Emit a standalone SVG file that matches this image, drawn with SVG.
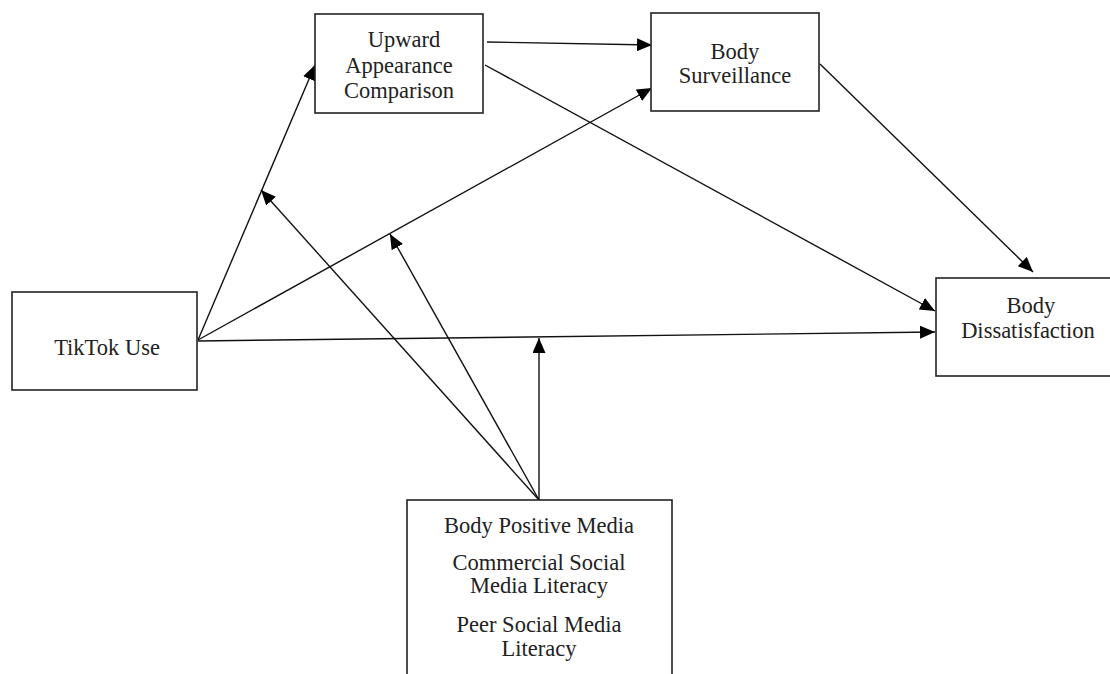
<svg xmlns="http://www.w3.org/2000/svg" width="1110" height="674" viewBox="0 0 1110 674">
<style>
.box{fill:#fff;stroke:#222;stroke-width:1.6}
.t{font-family:"Liberation Serif","Times New Roman",serif;font-size:22.5px;fill:#222;text-anchor:middle}
.c{stroke:#111;stroke-width:1.4;fill:none;marker-end:url(#ah)}
</style>
<defs>
<marker id="ah" viewBox="0 0 15 13" refX="15" refY="6.5" markerWidth="15" markerHeight="13" markerUnits="userSpaceOnUse" orient="auto">
<path d="M0,0 L15,6.5 L0,13 Z" fill="#000"/>
</marker>
</defs>
<rect width="1110" height="674" fill="#fff"/>
<g id="connectors">
<line class="c" x1="198" y1="340" x2="315" y2="65"/>
<line class="c" x1="198" y1="340" x2="652" y2="88"/>
<line class="c" x1="198" y1="341" x2="935" y2="332"/>
<line class="c" x1="487" y1="42" x2="652" y2="45"/>
<line class="c" x1="485" y1="65" x2="935" y2="311"/>
<line class="c" x1="820" y1="64" x2="1033" y2="272"/>
<line class="c" x1="539" y1="500" x2="261" y2="190"/>
<line class="c" x1="539" y1="500" x2="390" y2="234"/>
<line class="c" x1="539" y1="500" x2="539" y2="338"/>
</g>
<g id="upward">
<rect class="box" x="315" y="14" width="168" height="99"/>
<text class="t" x="404" y="47">Upward</text>
<text class="t" x="399" y="73">Appearance</text>
<text class="t" x="399" y="98">Comparison</text>
</g>
<g id="surveillance">
<rect class="box" x="651" y="13" width="168" height="98"/>
<text class="t" x="735" y="59">Body</text>
<text class="t" x="735" y="83">Surveillance</text>
</g>
<g id="tiktok">
<rect class="box" x="12" y="292" width="185" height="98"/>
<text class="t" x="107" y="355">TikTok Use</text>
</g>
<g id="dissatisfaction">
<rect class="box" x="936" y="278" width="190" height="98"/>
<text class="t" x="1031" y="313">Body</text>
<text class="t" x="1028" y="338">Dissatisfaction</text>
</g>
<g id="moderators">
<rect class="box" x="407" y="500" width="265" height="190"/>
<text class="t" x="539" y="533">Body Positive Media</text>
<text class="t" x="539" y="570">Commercial Social</text>
<text class="t" x="539" y="593">Media Literacy</text>
<text class="t" x="539" y="632">Peer Social Media</text>
<text class="t" x="539" y="656">Literacy</text>
</g>
</svg>
